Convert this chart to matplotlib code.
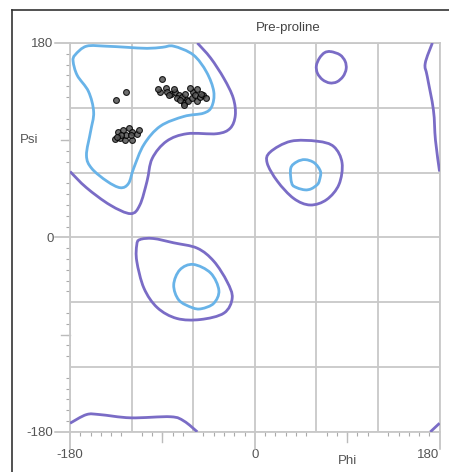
import matplotlib.pyplot as plt
import numpy as np
from matplotlib.lines import Line2D
from matplotlib.path import Path
from matplotlib.patches import PathPatch

plt.rcParams['font.family'] = ['Liberation Sans', 'DejaVu Sans']

# Контури (phi, psi)
blue_main = [(-175, 169), (-164, 177), (-145, 177), (-125, 176), (-105, 175), (-90, 176),
             (-79, 177), (-60, 169), (-47, 153), (-40, 135), (-42, 121), (-50, 115),
             (-69, 112), (-92, 103), (-108, 86), (-118, 64), (-123, 50), (-131, 46),
             (-144, 52), (-159, 64), (-164, 76), (-160, 98), (-157, 116), (-162, 135),
             (-173, 150), (-177, 163)]
blue_alpha = [(-73, -30), (-60, -25), (-43, -33), (-35, -49), (-40, -61), (-52, -66),
              (-61, -65), (-74, -58), (-79, -44)]
blue_left = [(36, 50), (35, 64), (41, 70), (49, 72), (58, 69), (64, 61), (63, 53),
             (61, 49), (55, 45), (49, 44), (41, 46)]

purple_top = [(-56, 180), (-43, 166), (-30, 147), (-21, 129), (-19, 113), (-24, 101),
              (-37, 96), (-66, 96), (-86, 89), (-100, 73), (-105, 52), (-112, 30),
              (-121, 22), (-141, 30), (-164, 46), (-180, 61)]
purple_right = [(173, 180), (166, 161), (168, 149), (174, 118), (176, 90), (180, 61)]
purple_bottom = [(-180, -172), (-164, -164), (-151, -164), (-121, -167), (-82, -166),
                 (-69, -170), (-56, -180)]
purple_bottom_r = [(171, -180), (180, -172)]
purple_alpha = [(-112, -2), (-99, -1), (-79, -5), (-56, -10), (-40, -22), (-27, -41),
                (-22, -56), (-30, -70), (-53, -76), (-76, -75), (-95, -65), (-108, -47),
                (-115, -22), (-115, -7)]
purple_left = [(15, 79), (35, 89), (61, 89), (77, 84), (85, 69), (82, 49), (70, 35),
               (54, 30), (38, 36), (22, 52), (12, 69)]
purple_small = [(74, 172), (83, 169), (88, 163), (89, 156), (86, 149), (80, 144),
                (73, 143), (66, 146), (61, 152), (60, 159), (63, 166), (68, 171)]

# Залишки (phi, psi)
res_phi = [-90, -92, -87, -82, -78, -74, -76, -71, -68, -66, -69, -65, -61, -60, -58,
           -56, -53, -50, -48, -63, -73, -69, -79, -86, -94, -84, -56, -52,
           -135, -125,
           -133, -128, -123, -120, -115, -136, -131, -126, -120, -125, -130, -121, -113, -134]
res_psi = [147, 135, 138, 133, 135, 132, 129, 130, 133, 127, 124, 126, 129, 135, 132,
           126, 130, 132, 129, 138, 127, 123, 137, 135, 137, 132, 137, 133,
           127, 135,
           98, 99.5, 101, 98, 96, 91, 92, 90, 90, 95, 95, 95, 99, 93]

blue = '#68b3e8'
purple = '#7a6cc6'


def smooth_path(pts, closed):
    # плавна крива Безьє через задані вершини
    p = np.array(pts, dtype=float)
    if closed:
        p = np.vstack([p[-1], p, p[0], p[1]])
    else:
        p = np.vstack([p[0], p, p[-1]])
    verts = [p[1]]
    codes = [Path.MOVETO]
    for i in range(1, len(p) - 2):
        c1 = p[i] + (p[i + 1] - p[i - 1]) / 6
        c2 = p[i + 1] - (p[i + 2] - p[i]) / 6
        verts += [c1, c2, p[i + 1]]
        codes += [Path.CURVE4] * 3
    return Path(verts, codes)


fig = plt.figure(figsize=(4.49, 4.72), dpi=100)
ax = fig.add_axes([0.156, 0.085, 0.823, 0.824])

for c in [blue_main, blue_alpha, blue_left]:
    ax.add_patch(PathPatch(smooth_path(c, True), fill=False, ec=blue, lw=2, zorder=3))
for c in [purple_alpha, purple_left, purple_small]:
    ax.add_patch(PathPatch(smooth_path(c, True), fill=False, ec=purple, lw=2, zorder=3))
for c in [purple_top, purple_right, purple_bottom, purple_bottom_r]:
    ax.add_patch(PathPatch(smooth_path(c, False), fill=False, ec=purple, lw=2, zorder=3))

ax.plot(res_phi, res_psi, 'o', ms=4.2, mfc='#555555', mec='black', mew=0.8, alpha=0.85, zorder=4)

ax.set_xlim(-180, 180)
ax.set_ylim(-180, 180)

# Сітка
ax.set_xticks([-180, -120, -60, 0, 60, 120, 180], minor=False)
ax.set_yticks([-180, -120, -60, 0, 60, 120, 180], minor=False)
ax.grid(True, color='#c8c8c8', lw=1.3, zorder=0)
ax.set_axisbelow(True)
ax.set_xticklabels(['-180', '', '', '0', '', '', '180'])
ax.set_yticklabels(['-180', '', '', '0', '', '', '180'])
ax.set_xticks(np.arange(-180, 181, 10), minor=True)
ax.set_yticks(np.arange(-180, 181, 10), minor=True)
ax.tick_params(which='minor', length=3, width=0.8, color='#aaaaaa', direction='out')
ax.tick_params(which='major', length=0, labelsize=9.5, labelcolor='#555555', pad=12)
ax.get_xticklabels()[-1].set_horizontalalignment('right')
ax.get_xticklabels()[-1].set_x(180)
for v in [-180, 0, 180]:
    ax.plot([v, v], [0, -0.045], transform=ax.get_xaxis_transform(), color='#bbbbbb', lw=1.1, clip_on=False)
    ax.plot([0, -0.04], [v, v], transform=ax.get_yaxis_transform(), color='#bbbbbb', lw=1.1, clip_on=False)
for v in [-90, 90]:
    ax.plot([v, v], [0, -0.025], transform=ax.get_xaxis_transform(), color='#bbbbbb', lw=1.0, clip_on=False)
    ax.plot([0, -0.025], [v, v], transform=ax.get_yaxis_transform(), color='#bbbbbb', lw=1.0, clip_on=False)
for s in ax.spines.values():
    s.set_color('#c8c8c8')
    s.set_linewidth(1.3)

ax.text(90, -0.06, 'Phi', transform=ax.get_xaxis_transform(), ha='center', va='top', fontsize=9.5, color='#555555')
ax.text(-0.085, 90, 'Psi', transform=ax.get_yaxis_transform(), ha='right', va='center', fontsize=9.5, color='#555555')

fig.text(0.642, 0.941, 'Pre-proline', ha='center', va='center', fontsize=9.5, color='#444444')

# Рамка зліва і зверху
fig.add_artist(Line2D([12 / 449, 12 / 449], [0, 1 - 10 / 472], color='#333333', lw=1.2))
fig.add_artist(Line2D([12 / 449, 1], [1 - 10 / 472, 1 - 10 / 472], color='#333333', lw=1.2))

fig.savefig('out.png', dpi=100)
